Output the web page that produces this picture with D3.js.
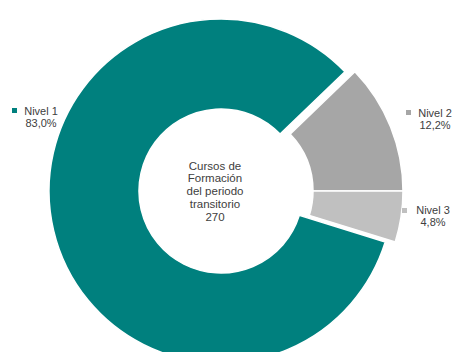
<!DOCTYPE html>
<html>
<head>
<meta charset="utf-8">
<script src="https://cdn.jsdelivr.net/npm/d3@7"></script>
<style>
  html, body { margin: 0; padding: 0; background: #fff; }
  svg { display: block; }
</style>
</head>
<body>
<svg id="chart" width="457" height="352"></svg>
<script>
const categories = ["Nivel 1", "Nivel 2", "Nivel 3"];
const values = [83.0, 12.2, 4.8];
const colors = ["#00807e", "#a6a6a6", "#c0c0c0"];
const centerLines = ["Cursos de", "Formación", "del periodo", "transitorio", "270"];

const svg = d3.select("#chart");
const cx = 221, cy = 191, R = 172, r = 82;
const font = "'Liberation Sans', Arial, sans-serif";
const textColor = "#404040";

const total = d3.sum(values);
const start = Math.PI / 2 + (values[2] / total) * 2 * Math.PI;
const pie = d3.pie().sort(null).startAngle(start).endAngle(start + 2 * Math.PI);
const arcs = pie(values);
const arc = d3.arc().innerRadius(r).outerRadius(R);

const g = svg.append("g").attr("transform", `translate(${cx},${cy})`);
const offsets = [[0, 0], [10, 0], [10, 0]];
g.selectAll("path").data(arcs).enter().append("path")
  .attr("d", arc)
  .attr("fill", (d, i) => colors[i])
  .attr("stroke", "#fff")
  .attr("stroke-width", 1.5)
  .attr("transform", (d, i) => `translate(${offsets[i][0]},${offsets[i][1]})`);

// center text
centerLines.forEach((t, i) => {
  svg.append("text")
    .attr("text-anchor", "middle")
    .attr("font-family", font)
    .attr("font-size", 11.5)
    .attr("fill", textColor)
    .attr("x", 215).attr("y", 169.5 + i * 12.8)
    .text(t);
});

// legend labels
const fmt = v => d3.format(".1f")(v).replace(".", ",") + "%";
const legend = [
  { sx: 12, sy: 108, tx: 41, ty: 115 },
  { sx: 406, sy: 110, tx: 435, ty: 117 },
  { sx: 402, sy: 208, tx: 433, ty: 214 }
];
legend.forEach((p, i) => {
  svg.append("rect").attr("x", p.sx).attr("y", p.sy).attr("width", 5).attr("height", 5)
    .attr("fill", colors[i]);
  [categories[i], fmt(values[i])].forEach((s, j) => {
    svg.append("text").attr("text-anchor", "middle")
      .attr("font-family", font).attr("font-size", 11).attr("fill", textColor)
      .attr("x", p.tx).attr("y", p.ty + j * 12.4)
      .text(s);
  });
});
</script>
</body>
</html>
